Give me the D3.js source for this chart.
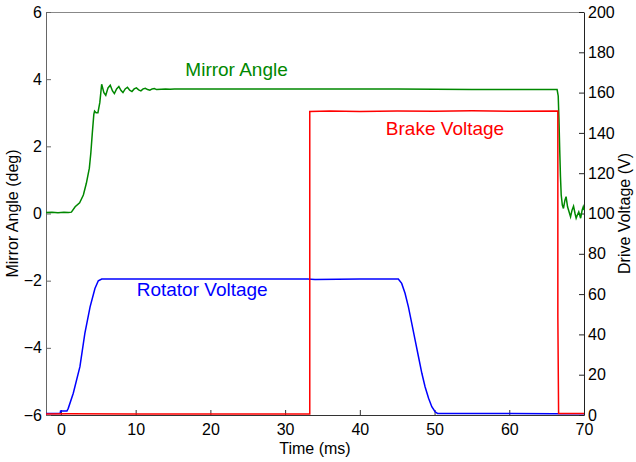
<!DOCTYPE html>
<html>
<head>
<meta charset="utf-8">
<script src="https://cdn.jsdelivr.net/npm/d3@7"></script>
<style>
  body { margin: 0; background: #fff; }
  text { font-family: "Liberation Sans", Arial, sans-serif; }
</style>
</head>
<body>
<div id="chart"></div>
<script>
// data
var mirrorT = [-2, -1.2, -0.4, 0.4, 1.0, 1.4, 1.9, 2.5, 3.0, 3.4, 3.8, 4.0, 4.2, 4.4, 4.5, 4.7, 4.95, 5.2, 5.45,
  5.75, 6.0, 6.3, 6.6, 6.9, 7.15, 7.45, 7.75, 8.05, 8.3, 8.6, 8.9, 9.2, 9.5, 9.8, 10.1, 10.4, 10.7, 11.0, 11.3,
  11.6, 11.9, 12.2, 12.5, 12.8, 13.4, 14.0, 14.6, 15.2, 16, 25, 35, 45, 55, 62, 66.4,
  66.55, 66.65, 66.75, 66.85, 66.95, 67.1, 67.25, 67.45, 67.6, 67.8, 68.0, 68.2, 68.4, 68.6, 68.8, 68.95,
  69.1, 69.3, 69.55, 69.75, 69.9, 70];
var mirrorDeg = [0.03, 0.04, 0.02, 0.04, 0.03, 0.04, 0.2, 0.32, 0.55, 0.9, 1.35, 1.8, 2.4, 2.95, 3.05, 3.0, 3.0, 3.3, 3.85,
  3.6, 3.52, 3.74, 3.82, 3.65, 3.57, 3.71, 3.78, 3.66, 3.6, 3.71, 3.76, 3.67, 3.63, 3.71, 3.74, 3.68, 3.65, 3.71, 3.73,
  3.69, 3.67, 3.71, 3.72, 3.69, 3.70, 3.71, 3.70, 3.71, 3.71, 3.71, 3.71, 3.705, 3.69, 3.69, 3.69,
  3.5, 2.8, 1.9, 1.1, 0.55, 0.25, 0.15, 0.4, 0.5, 0.2, 0.05, -0.1, 0.1, 0.22, 0.0, -0.14,
  -0.05, 0.05, -0.14, 0.1, 0.2, 0.1];

var rotT = [-2, -0.1, -0.05, 0.8, 0.98, 1.65, 2.54, 3.2, 3.9, 4.55, 5.0, 5.45, 20, 33, 34, 40, 45.15,
  45.6, 46.05, 46.5, 46.95, 47.4, 47.85, 48.3, 48.73, 49.2, 49.63, 50.07, 50.4, 60, 66, 70];
var rotV = [0.8, 0.8, 2.0, 2.0, 3.3, 10.8, 24, 40.5, 53.7, 62.8, 66.6, 67.5, 67.5, 67.5, 67.3, 67.5, 67.5,
  65.3, 60.4, 53.7, 45.5, 37.2, 28.9, 20.7, 14.0, 8.3, 4.1, 1.6, 0.8, 0.8, 0.6, 0.6];

var brakeT = [-2, 1, 10, 20, 33.3, 33.3, 36, 40, 45, 50, 55, 60, 66.5, 66.5, 66.6, 70];
var brakeV = [0.5, 0.6, 0.5, 0.5, 0.5, 150.6, 150.9, 150.6, 150.9, 150.8, 151.0, 150.8, 150.9, 49, 0.7, 0.7];

var xTicks = [0, 10, 20, 30, 40, 50, 60, 70];
var yLeftTicks = [-6, -4, -2, 0, 2, 4, 6];
var yRightTicks = [0, 20, 40, 60, 80, 100, 120, 140, 160, 180, 200];

// set the dimensions and margins of the graph
var W = 636, H = 462;
var margin = {top: 12, right: 52, bottom: 47, left: 46},
    width = W - margin.left - margin.right,
    height = H - margin.top - margin.bottom;

var svg = d3.select("#chart")
  .append("svg")
    .attr("width", W)
    .attr("height", H)
  .append("g")
    .attr("transform", "translate(" + margin.left + "," + margin.top + ")");

var x = d3.scaleLinear().domain([-2, 70]).range([0, width]);
var yL = d3.scaleLinear().domain([-6, 6]).range([height, 0]);
var yR = d3.scaleLinear().domain([0, 200]).range([height, 0]);

// top border
svg.append("line")
  .attr("x1", 0).attr("x2", width).attr("y1", 0.5).attr("y2", 0.5)
  .attr("stroke", "#888").attr("stroke-width", 1);

function styleAxis(g, col) {
  g.selectAll("path").attr("stroke", col);
  g.selectAll("line").attr("stroke", col);
  g.selectAll("text").attr("fill", "#000").style("font-size", "16px");
}

svg.append("g")
  .attr("transform", "translate(0," + height + ")")
  .call(d3.axisBottom(x).tickValues(xTicks).tickSizeInner(-5).tickSizeOuter(0).tickPadding(9))
  .call(styleAxis, "#333");

svg.append("g")
  .call(d3.axisLeft(yL).tickValues(yLeftTicks).tickSizeInner(-5).tickSizeOuter(0).tickPadding(4))
  .call(styleAxis, "#666");

svg.append("g")
  .attr("transform", "translate(" + width + ",0)")
  .call(d3.axisRight(yR).tickValues(yRightTicks).tickSizeInner(-5).tickSizeOuter(0).tickPadding(4))
  .call(styleAxis, "#222");

// lines
var mirror = mirrorT.map(function (t, i) { return [t, mirrorDeg[i]]; });
var rot = rotT.map(function (t, i) { return [t, rotV[i]]; });
var brake = brakeT.map(function (t, i) { return [t, brakeV[i]]; });

var lineL = d3.line().x(function (d) { return x(d[0]); }).y(function (d) { return yL(d[1]); });
var lineR = d3.line().x(function (d) { return x(d[0]); }).y(function (d) { return yR(d[1]); });

svg.append("path").datum(mirror).attr("d", lineL)
  .attr("fill", "none").attr("stroke", "#008800").attr("stroke-width", 1.5);
svg.append("path").datum(rot).attr("d", lineR)
  .attr("fill", "none").attr("stroke", "#0000ff").attr("stroke-width", 1.5);
svg.append("path").datum(brake).attr("d", lineR)
  .attr("fill", "none").attr("stroke", "#ff0000").attr("stroke-width", 1.5);

// annotations
svg.append("text").attr("x", x(23.5)).attr("y", yL(4.1))
  .attr("text-anchor", "middle").attr("fill", "#008800").style("font-size", "19px").text("Mirror Angle");
svg.append("text").attr("x", x(51.4)).attr("y", yR(139))
  .attr("text-anchor", "middle").attr("fill", "#ff0000").style("font-size", "19px").text("Brake Voltage");
svg.append("text").attr("x", x(18.9)).attr("y", yR(59))
  .attr("text-anchor", "middle").attr("fill", "#0000ff").style("font-size", "19px").text("Rotator Voltage");

// axis labels
svg.append("text").attr("x", width / 2).attr("y", height + 39)
  .attr("text-anchor", "middle").style("font-size", "16px").text("Time (ms)");
svg.append("text")
  .attr("transform", "translate(" + (-28) + "," + (height / 2) + ") rotate(-90)")
  .attr("text-anchor", "middle").style("font-size", "16px").text("Mirror Angle (deg)");
svg.append("text")
  .attr("transform", "translate(" + (width + 46) + "," + (height / 2) + ") rotate(-90)")
  .attr("text-anchor", "middle").style("font-size", "16px").text("Drive Voltage (V)");
</script>
</body>
</html>
